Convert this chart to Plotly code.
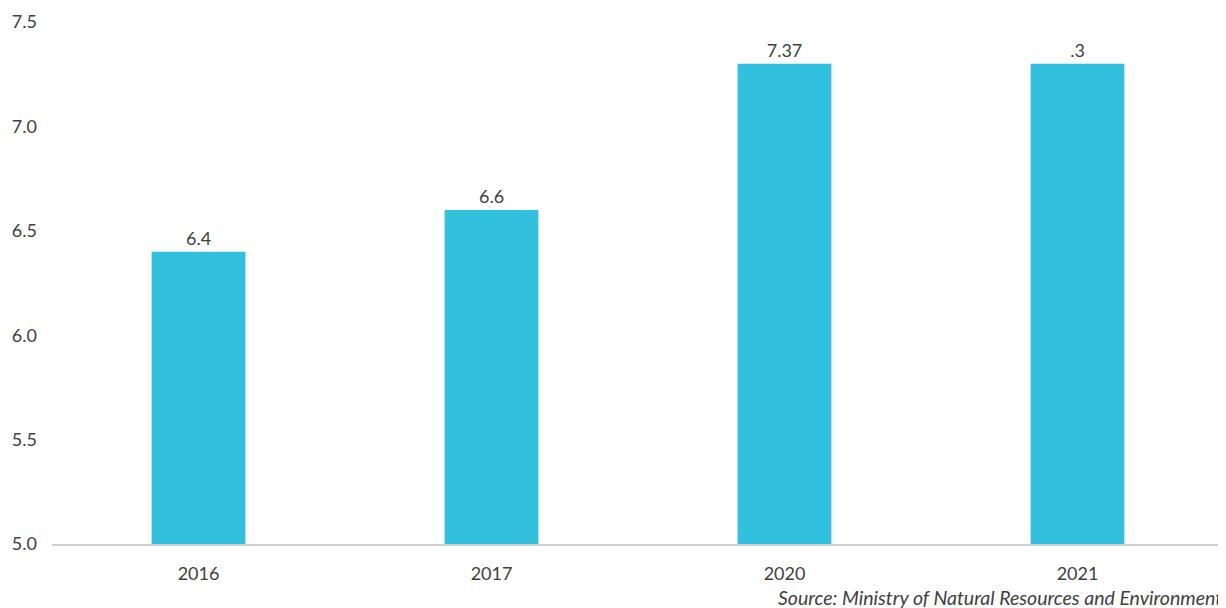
import plotly.graph_objects as go

# data
years = ["2016", "2017", "2020", "2021"]
values = [6.4, 6.6, 7.3, 7.3]
labels = ["6.4", "6.6", "7.37", ".3"]
y_ticks = [5.0, 5.5, 6.0, 6.5, 7.0, 7.5]

font_family = "Lato, Noto Sans, sans-serif"
text_color = "#404040"

fig = go.Figure()
fig.add_trace(
    go.Bar(
        x=years,
        y=values,
        text=labels,
        textposition="outside",
        textfont=dict(size=18, color=text_color, family=font_family),
        marker=dict(color="#31C1DE", line=dict(width=0)),
        cliponaxis=False,
        showlegend=False,
    )
)

# page has an 8px body margin, so the figure is sized to fill the rest
fig.update_layout(
    width=1218,
    height=600,
    margin=dict(l=44, r=2, t=14, b=64),
    plot_bgcolor="white",
    paper_bgcolor="white",
    bargap=0.68,
    font=dict(family=font_family, size=18, color=text_color),
)

fig.update_xaxes(
    showline=True,
    linecolor="#d0d0d0",
    linewidth=2,
    showgrid=False,
    ticks="",
    ticklabelstandoff=12,
    tickfont=dict(size=18, color=text_color),
)
fig.update_yaxes(
    range=[5.0, 7.5],
    tickvals=y_ticks,
    ticktext=[f"{v:.1f}" for v in y_ticks],
    showgrid=False,
    zeroline=False,
    showline=False,
    ticks="",
    ticklabelstandoff=14,
    tickfont=dict(size=18, color=text_color),
)

fig.add_annotation(
    text="<i>Source: Ministry of Natural Resources and Environment</i>",
    xref="paper",
    yref="paper",
    x=1.0,
    y=0,
    yshift=-53,
    xanchor="right",
    yanchor="middle",
    showarrow=False,
    font=dict(size=19.5, color=text_color, family=font_family),
)

fig.write_html("out.html")
